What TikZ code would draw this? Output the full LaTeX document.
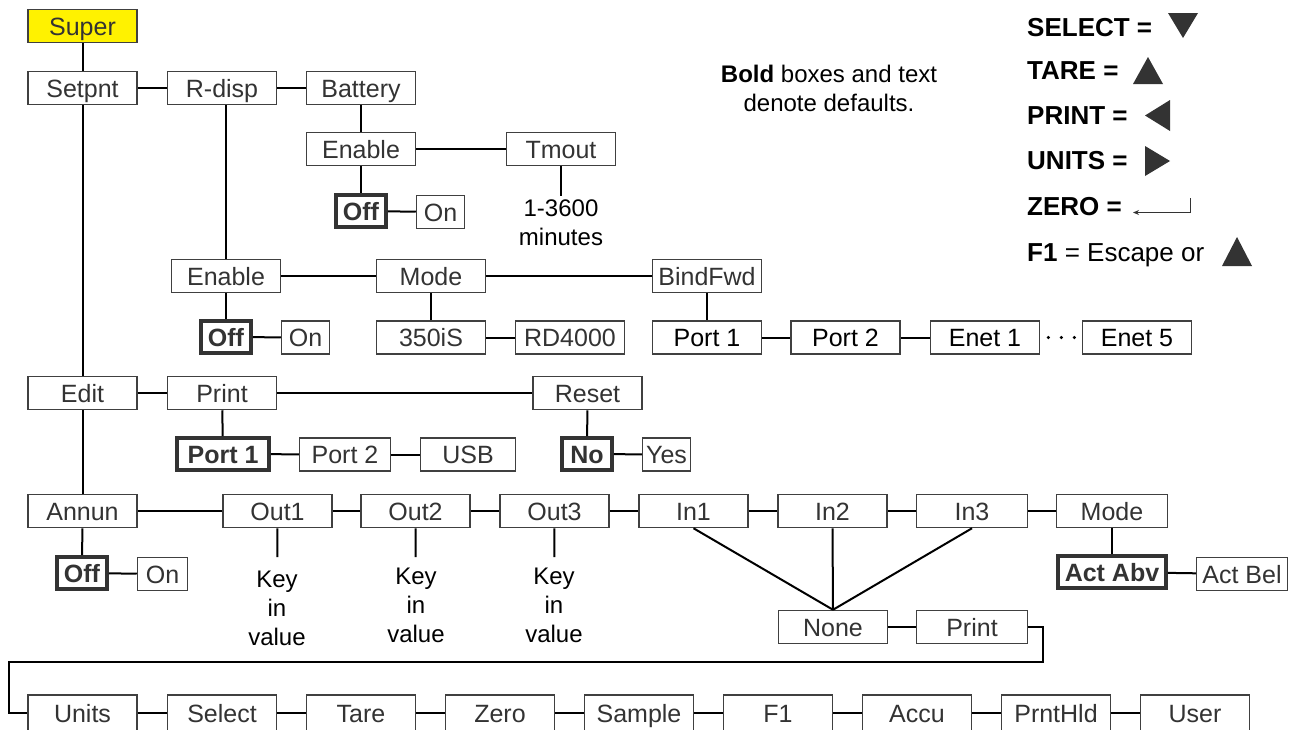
\documentclass[tikz,border=0pt]{standalone}
\usepackage{fontspec}
\setmainfont{Liberation Sans}
\usetikzlibrary{arrows.meta}
\definecolor{supery}{RGB}{255,242,0}
\definecolor{bx}{RGB}{64,64,64}
\definecolor{tx}{RGB}{51,51,51}
\begin{document}
\begin{tikzpicture}[x=1pt,y=-1pt,
 box/.style={draw=bx, line width=1.5pt, fill=white, text=tx, inner sep=0pt, minimum height=33pt, minimum width=109pt, text height=18pt, text depth=0pt, font=\fontsize{25}{30}\selectfont},
 dbox/.style={box, line width=3.8pt, draw=black!80, minimum height=32pt, font=\fontsize{25}{30}\selectfont\bfseries},
 kbox/.style={box, text=black},
 con/.style={draw=black, line width=2pt},
 note/.style={inner xsep=0pt, font=\fontsize{24}{29}\selectfont, align=center},
 leg/.style={anchor=base west, inner sep=0pt, font=\fontsize{26}{30}\selectfont\bfseries},
 tri/.style={fill=black!80, draw=none}]
\useasboundingbox (0,0) rectangle (1292,729);
\fill[white] (0,0) rectangle (1292,729);
\clip (0,0) rectangle (1292,729);

% ---- top rows
\node[box, fill=supery] (super) at (82.5,26) {Super};
\node[box] (setpnt) at (82.5,88) {Setpnt};
\node[box] (rdisp) at (222,88) {R-disp};
\node[box] (battery) at (361,88) {Battery};
\node[box] (benable) at (361,149) {Enable};
\node[box] (tmout) at (561,149) {Tmout};
\node[dbox, minimum width=50pt] (boff) at (361,211) {Off};
\node[box, minimum width=48pt] (bon) at (440.5,212) {On};
\node[note, anchor=north, inner ysep=4pt, text=black] (tmtext) at (561,196) {1-3600\\minutes};

\node[box] (renable) at (226,276) {Enable};
\node[box] (mode1) at (431,276) {Mode};
\node[box] (bindfwd) at (707,276) {BindFwd};
\node[dbox, minimum width=50pt] (roff) at (226,337) {Off};
\node[box, minimum width=48pt] (ron) at (305.5,337.5) {On};
\node[box] (s350) at (431,337.5) {350iS};
\node[box] (rd4000) at (570,337.5) {RD4000};
\node[kbox] (bp1) at (707,337.5) {Port 1};
\node[kbox] (bp2) at (845.5,337.5) {Port 2};
\node[kbox] (enet1) at (985,337.5) {Enet 1};
\node[kbox] (enet5) at (1137,337.5) {Enet 5};

% ---- edit rows
\node[box] (edit) at (82.5,393) {Edit};
\node[box] (print1) at (222,393) {Print};
\node[box] (reset) at (587.5,393) {Reset};
\node[dbox, minimum width=92pt] (pport1) at (223,454) {Port 1};
\node[box, minimum width=91pt] (pport2) at (345,454.5) {Port 2};
\node[box, minimum width=95pt] (usb) at (468,454.5) {USB};
\node[dbox, minimum width=50pt] (no) at (587,454) {No};
\node[box, minimum width=48pt] (yes) at (666.5,454.5) {Yes};

% ---- annun rows
\node[box] (annun) at (82.5,511) {Annun};
\node[box] (out1) at (277.5,511) {Out1};
\node[box] (out2) at (415.5,511) {Out2};
\node[box] (out3) at (554.5,511) {Out3};
\node[box] (in1) at (693.5,511) {In1};
\node[box] (in2) at (832.5,511) {In2};
\node[box, minimum width=111pt] (in3) at (972,511) {In3};
\node[box, minimum width=111pt] (mode2) at (1112,511) {Mode};
\node[dbox, minimum width=50pt] (aoff) at (82,573) {Off};
\node[box, minimum width=50pt] (aon) at (162.5,574) {On};
\node[note, anchor=north, inner ysep=14pt] (k1) at (277,557) {Key\\in\\value};
\node[note, anchor=north, inner ysep=11pt] (k2) at (416,557) {Key\\in\\value};
\node[note, anchor=north, inner ysep=11pt] (k3) at (554,557) {Key\\in\\value};
\node[dbox, minimum width=108pt] (actabv) at (1112,572) {Act Abv};
\node[box, minimum width=91pt] (actbel) at (1242,574) {Act Bel};
\node[box] (anone) at (833,627) {None};
\node[box, minimum width=111pt] (aprint) at (972,627) {Print};

% ---- bottom row
\foreach \n/\x/\t in {units/82.5/Units, select/222/Select, tare/361/Tare, zero/500/Zero, sample/639/Sample, f1/778/F1, accu/917/Accu, prnthld/1056/PrntHld, user/1195/User}
  \node[box, minimum height=36pt] (\n) at (\x,713) {\t};

\coordinate (r1) at (1043,662);
\coordinate (r2) at (9,662);

% ---- connectors
\draw[con] (super) -- (setpnt);
\draw[con] (setpnt) -- (rdisp);
\draw[con] (rdisp) -- (battery);
\draw[con] (battery) -- (benable);
\draw[con] (benable) -- (tmout);
\draw[con] (benable) -- (boff);
\draw[con] (boff) -- (bon);
\draw[con] (tmout) -- (tmtext);
\draw[con] (renable.north |- rdisp.south) -- (renable.north);
\draw[con] (renable) -- (mode1);
\draw[con] (mode1) -- (bindfwd);
\draw[con] (renable) -- (roff);
\draw[con] (roff) -- (ron);
\draw[con] (mode1) -- (s350);
\draw[con] (s350) -- (rd4000);
\draw[con] (bindfwd) -- (bp1);
\draw[con] (bp1) -- (bp2);
\draw[con] (bp2) -- (enet1);
\draw[con, line width=3.5pt, line cap=round, dash pattern=on 0pt off 13pt, shorten <=8pt, shorten >=7pt] (enet1.east) -- (enet5.west);
\draw[con] (setpnt) -- (edit);
\draw[con] (edit) -- (print1);
\draw[con] (print1) -- (reset);
\draw[con] (print1) -- (pport1);
\draw[con] (pport1) -- (pport2);
\draw[con] (pport2) -- (usb);
\draw[con] (reset) -- (no);
\draw[con] (no) -- (yes);
\draw[con] (edit) -- (annun);
\draw[con] (annun) -- (out1);
\draw[con] (out1) -- (out2);
\draw[con] (out2) -- (out3);
\draw[con] (out3) -- (in1);
\draw[con] (in1) -- (in2);
\draw[con] (in2) -- (in3);
\draw[con] (in3) -- (mode2);
\draw[con] (annun) -- (aoff);
\draw[con] (aoff) -- (aon);
\draw[con] (out1) -- (k1);
\draw[con] (out2) -- (k2);
\draw[con] (out3) -- (k3);
\draw[con] (mode2) -- (actabv);
\draw[con] (actabv) -- (actbel);
\draw[con] (in1.south) -- (anone.north);
\draw[con] (in2.south) -- (anone.north);
\draw[con] (in3.south) -- (anone.north);
\draw[con] (anone) -- (aprint);
\draw[con] (aprint.east) -| (r1) -- (r2) |- (units.west);
\draw[con] (units) -- (select);
\draw[con] (select) -- (tare);
\draw[con] (tare) -- (zero);
\draw[con] (zero) -- (sample);
\draw[con] (sample) -- (f1);
\draw[con] (f1) -- (accu);
\draw[con] (accu) -- (prnthld);
\draw[con] (prnthld) -- (user);

% ---- note
\node[note] (defnote) at (829,88) {\textbf{Bold} boxes and text\\denote defaults.};

% ---- legend
\node[leg] (lsel) at (1027,36) {SELECT =};
\fill[tri] (1168,13) -- (1198,13) -- (1183,38) -- cycle;
\node[leg] (ltare) at (1027,79) {TARE =};
\fill[tri] (1133,84) -- (1163,84) -- (1148,57) -- cycle;
\node[leg] (lprint) at (1027,124) {PRINT =};
\fill[tri] (1170,100) -- (1170,131) -- (1145,115.5) -- cycle;
\node[leg] (lunits) at (1027,169) {UNITS =};
\fill[tri] (1145,146) -- (1145,176) -- (1170,161) -- cycle;
\node[leg] (lzero) at (1027,215) {ZERO =};
\draw[line width=1.2pt, black!80, -{Stealth[length=6pt,width=5pt]}] (1190.5,198) |- (1133,212.5);
\node[leg] (lf1) at (1027,261) {F1 \mdseries= Escape or};
\fill[tri] (1222,266) -- (1252,266) -- (1237,237) -- cycle;
\end{tikzpicture}
\end{document}
